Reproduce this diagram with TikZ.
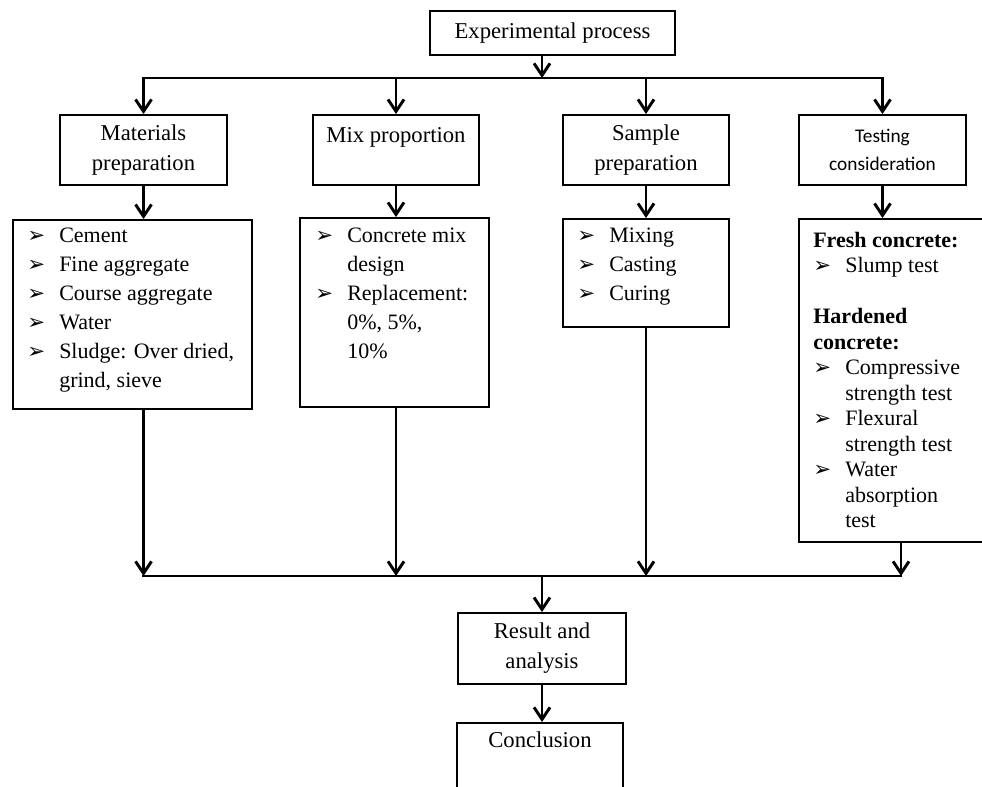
\documentclass[tikz,border=0pt]{standalone}
\usepackage{fontspec}
\setmainfont{Liberation Serif}
\newfontfamily\calibrifont{Carlito}
\newfontfamily\dingfont{DejaVu Sans}
\usepackage{tikz}
\usetikzlibrary{arrows.meta,positioning,calc}
\definecolor{fcink}{HTML}{000000}
\newcommand{\pxu}{0.75pt}
\newcommand{\bul}{\makebox[24pt][l]{\dingfont\fontsize{16}{16}\selectfont ➢}}
\newcommand{\ind}{\hspace*{24pt}}
\tikzset{
  labelBox/.style={draw=fcink, line width=1.4pt, align=center, inner sep=0pt, font=\fontsize{17}{22.5}\selectfont},
  listBox/.style={draw=fcink, line width=1.4pt, inner sep=0pt},
  listText/.style={align=left, inner sep=0pt, anchor=north west, font=\fontsize{16.5}{21.75}\selectfont},
  flowArrow/.style={-{Straight Barb[length=9pt,width=12pt]}, line width=2.2pt, draw=fcink},
  busLine/.style={line width=2.2pt, line cap=rect, draw=fcink}
}

\begin{document}
\begin{tikzpicture}[x=\pxu,y=-\pxu]
  \useasboundingbox (0,0) rectangle (982,787);
  \clip (0,0) rectangle (982,787);
  % top
  \node[labelBox, minimum width=245*\pxu, minimum height=44*\pxu] (exp) at (552.5,33) {Experimental process};
  \coordinate (topbus) at (0,78);
  \coordinate (botbus) at (0,576);
  % second row
  \node[labelBox, minimum width=167*\pxu, minimum height=70*\pxu] (mat) at (143.5,150) {Materials\\preparation};
  \node[labelBox, minimum width=166*\pxu, minimum height=70*\pxu] (mix) at (396,150) {Mix proportion\\\mbox{}};
  \node[labelBox, minimum width=166*\pxu, minimum height=70*\pxu] (smp) at (646,150) {Sample\\preparation};
  \node[labelBox, minimum width=167*\pxu, minimum height=70*\pxu, font=\calibrifont\fontsize{14.5}{21}\selectfont] (tst) at (882.5,150) {Testing\\consideration};
  % lists
  \node[listBox, minimum width=239*\pxu, minimum height=189*\pxu] (matl) at (132.5,314.5) {};
  \node[listText] (matt) at (27,228) {\bul Cement\\\bul Fine aggregate\\\bul Course aggregate\\\bul Water\\\bul Sludge: Over dried,\\\ind grind, sieve};
  \node[listBox, minimum width=189*\pxu, minimum height=189*\pxu] (mixl) at (394.5,312.5) {};
  \node[listText] (mixt) at (315,228) {\bul Concrete mix\\\ind design\\\bul Replacement:\\\ind 0\%, 5\%,\\\ind 10\%};
  \node[listBox, minimum width=166*\pxu, minimum height=108*\pxu] (smpl) at (646,273) {};
  \node[listText] (smpt) at (577,228) {\bul Mixing\\\bul Casting\\\bul Curing};
  \node[listBox, minimum width=204*\pxu, minimum height=323*\pxu] (tstl) at (901,380.5) {};
  \node[listText, font=\fontsize{16.5}{19.1}\selectfont] (tstt) at (813,232) {\textbf{Fresh concrete:}\\\bul Slump test\\[19.1pt]\textbf{Hardened}\\\textbf{concrete:}\\\bul Compressive\\\ind strength test\\\bul Flexural\\\ind strength test\\\bul Water\\\ind absorption\\\ind test};
  % bottom
  \node[labelBox, minimum width=168*\pxu, minimum height=71*\pxu] (res) at (542,648.5) {Result and\\analysis};
  \node[labelBox, minimum width=166*\pxu, text height=12pt, text depth=80pt, inner ysep=6.75pt, anchor=north] (con) at (540,722) {Conclusion};
  % connectors
  \draw[flowArrow] (exp.south -| res) -- (res |- topbus);
  \draw[busLine] (mat |- topbus) -- (tst |- topbus);
  \foreach \n in {mat,mix,smp,tst}
    \draw[flowArrow] (\n |- topbus) -- (\n.north);
  \foreach \n/\l in {mat/matl,mix/mixl,smp/smpl,tst/tstl}
    \draw[flowArrow] (\n.south) -- (\n |- \l.north);
  \foreach \n/\l in {mat/matl,mix/mixl,smp/smpl}
    \draw[flowArrow] (\n |- \l.south) -- (\n |- botbus);
  \draw[flowArrow] (tstl.south) -- (tstl.south |- botbus);
  \draw[busLine] (mat |- botbus) -- (tstl.south |- botbus);
  \draw[flowArrow] (res |- botbus) -- (res.north);
  \draw[flowArrow] (res.south) -- (res.south |- con.north);
\end{tikzpicture}
\end{document}
